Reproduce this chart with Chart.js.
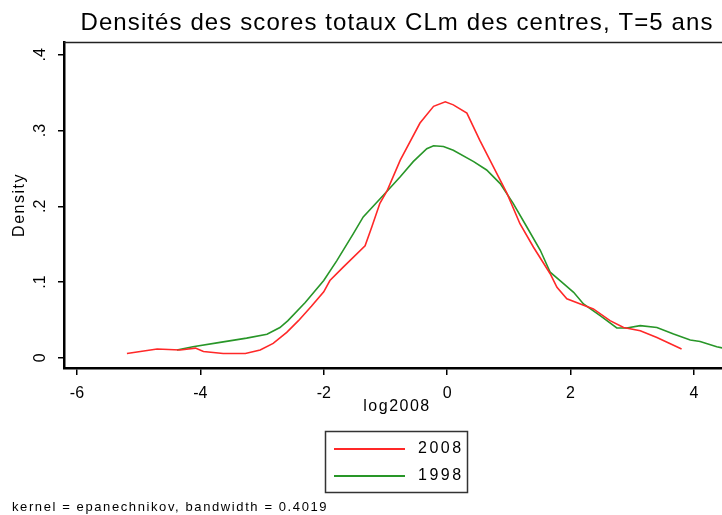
<!DOCTYPE html>
<html lang="fr">
<head>
    <meta charset="UTF-8">
    <title>Densités des scores totaux</title>
    <script src="https://cdn.jsdelivr.net/npm/chart.js"></script>
    <style>
        html, body { margin: 0; padding: 0; background: #fff; }
        #wrap { width: 722px; height: 515px; }
    </style>
</head>
<body>
<div id="wrap"><canvas id="densityChart"></canvas></div>

<script>
    // valeurs
    const x2008 = [-5.19, -4.70, -4.33, -4.08, -3.95, -3.63, -3.27, -3.03, -2.82, -2.60, -2.41, -2.20, -2.00, -1.90,
        -1.68, -1.33, -1.22, -1.09, -0.97, -0.76, -0.44, -0.22, -0.03, 0.10, 0.32, 0.53, 0.75, 0.97, 1.18, 1.40,
        1.67, 1.78, 1.94, 2.16, 2.37, 2.64, 2.86, 3.13, 3.40, 3.80];
    const y2008 = [0.0057, 0.0115, 0.0102, 0.0128, 0.0083, 0.0057, 0.0057, 0.0102, 0.019, 0.0335, 0.049, 0.068, 0.087, 0.102,
        0.120, 0.148, 0.173, 0.204, 0.221, 0.261, 0.310, 0.332, 0.338, 0.334, 0.323, 0.287, 0.252, 0.217, 0.177, 0.146,
        0.111, 0.093, 0.078, 0.071, 0.0645, 0.049, 0.040, 0.0358, 0.0269, 0.0115];

    const x1998 = [-4.38, -4.12, -3.68, -3.25, -2.92, -2.71, -2.58, -2.30, -2.00, -1.79, -1.52, -1.36, -1.03, -0.76,
        -0.55, -0.33, -0.22, -0.06, 0.10, 0.43, 0.64, 0.86, 1.07, 1.29, 1.51, 1.67, 1.83, 2.05, 2.21, 2.48,
        2.75, 2.91, 3.13, 3.40, 3.67, 3.94, 4.10, 4.37, 4.46];
    const y1998 = [0.0102, 0.0146, 0.0203, 0.026, 0.031, 0.040, 0.049, 0.073, 0.102, 0.128, 0.164, 0.186, 0.215, 0.239,
        0.259, 0.276, 0.280, 0.279, 0.274, 0.259, 0.248, 0.230, 0.204, 0.173, 0.142, 0.113, 0.102, 0.0865, 0.071, 0.0556,
        0.0393, 0.0393, 0.0424, 0.0401, 0.0314, 0.0234, 0.0216, 0.0146, 0.013];

    const xTicks = [-6, -4, -2, 0, 2, 4];
    const yTicks = [0, 0.1, 0.2, 0.3, 0.4];
    const seriesNames = ['2008', '1998'];
    const seriesColors = ['rgb(255,40,40)', 'rgb(40,150,40)'];

    const toPoints = (xs, ys) => xs.map((x, i) => ({x: x, y: ys[i]}));
    const FONT = '"Liberation Sans", Arial, sans-serif';

    // titres, etiquettes de l'axe y, legende et note (style Stata)
    const stataDecor = {
        id: 'stataDecor',
        afterDraw(chart) {
            const ctx = chart.ctx;
            const area = chart.chartArea;
            const yScale = chart.scales.y;
            ctx.save();
            ctx.fillStyle = '#000';

            // bord superieur de la zone
            ctx.strokeStyle = '#222';
            ctx.lineWidth = 1.5;
            ctx.beginPath();
            ctx.moveTo(area.left, area.top + 0.5);
            ctx.lineTo(area.right, area.top + 0.5);
            ctx.stroke();

            // titre
            ctx.font = '24px ' + FONT;
            ctx.letterSpacing = '1.1px';
            ctx.textAlign = 'center';
            ctx.textBaseline = 'alphabetic';
            ctx.fillText('Densités des scores totaux CLm des centres, T=5 ans', 397, 30);

            ctx.textBaseline = 'middle';
            // etiquettes y tournees
            ctx.font = '16px ' + FONT;
            ctx.letterSpacing = '0px';
            yScale.ticks.forEach(t => {
                const py = yScale.getPixelForValue(t.value);
                ctx.save();
                ctx.translate(41, py);
                ctx.rotate(-Math.PI / 2);
                ctx.fillText(String(t.value).replace(/^0\./, '.'), 0, 0);
                ctx.restore();
            });

            // titre y
            ctx.letterSpacing = '1.5px';
            ctx.save();
            ctx.translate(20, 205);
            ctx.rotate(-Math.PI / 2);
            ctx.fillText('Density', 0, 0);
            ctx.restore();

            // titre x
            ctx.fillText('log2008', 397, 407);

            // legende
            ctx.strokeStyle = '#333';
            ctx.lineWidth = 1.5;
            ctx.strokeRect(325.5, 431.5, 142, 61);
            ctx.font = '16px ' + FONT;
            ctx.letterSpacing = '2.5px';
            ctx.textAlign = 'left';
            seriesNames.forEach((name, i) => {
                const ly = 449 + i * 27;
                ctx.strokeStyle = seriesColors[i];
                ctx.lineWidth = 2;
                ctx.beginPath();
                ctx.moveTo(334, ly);
                ctx.lineTo(405, ly);
                ctx.stroke();
                ctx.fillText(name, 418, ly);
            });

            // note
            ctx.font = '13px ' + FONT;
            ctx.letterSpacing = '1.6px';
            ctx.fillText('kernel = epanechnikov, bandwidth = 0.4019', 12, 507);
            ctx.restore();
        }
    };

    const ctx = document.getElementById('densityChart').getContext('2d');
    new Chart(ctx, {
        type: 'scatter',
        data: {
            datasets: seriesNames.map((name, i) => ({
                label: name,
                data: i === 0 ? toPoints(x2008, y2008) : toPoints(x1998, y1998),
                showLine: true,
                borderColor: seriesColors[i],
                borderWidth: 1.6,
                pointRadius: 0,
                tension: 0
            }))
        },
        options: {
            responsive: true,
            maintainAspectRatio: false,
            animation: false,
            layout: { padding: { top: 42, right: 0, bottom: 0, left: 0 } },
            plugins: {
                legend: { display: false },
                tooltip: { enabled: false }
            },
            scales: {
                x: {
                    type: 'linear',
                    min: -6.21,
                    max: 4.455,
                    afterBuildTicks: s => { s.ticks = xTicks.map(v => ({value: v})); },
                    afterFit: s => { s.height = 147; },
                    grid: { drawOnChartArea: false, drawTicks: true, tickLength: 7, color: '#000', lineWidth: 1.5 },
                    border: { display: true, color: '#000', width: 2.5 },
                    ticks: { color: '#000', font: { family: FONT, size: 16 }, padding: 9, maxRotation: 0 }
                },
                y: {
                    type: 'linear',
                    min: -0.0135,
                    max: 0.417,
                    afterBuildTicks: s => { s.ticks = yTicks.map(v => ({value: v})); },
                    afterFit: s => { s.width = 64; },
                    grid: { drawOnChartArea: false, drawTicks: true, tickLength: 6, color: '#000', lineWidth: 1.5 },
                    border: { display: true, color: '#000', width: 2.5 },
                    ticks: { display: false }
                }
            }
        },
        plugins: [stataDecor]
    });
</script>
</body>
</html>
